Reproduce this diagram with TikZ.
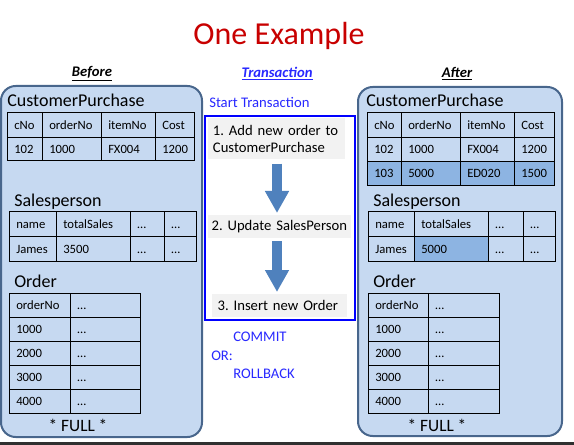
\documentclass[tikz,border=0pt]{standalone}
\usepackage{fontspec}
\setmainfont{Carlito}
\usetikzlibrary{arrows.meta}

\definecolor{panelfill}{RGB}{198,217,241}
\definecolor{panelline}{RGB}{72,102,140}
\definecolor{rowmark}{RGB}{141,180,226}
\definecolor{stepgray}{RGB}{242,242,242}
\definecolor{arrowblue}{RGB}{79,129,189}
\definecolor{txblue}{RGB}{40,40,255}
\definecolor{titlered}{RGB}{200,0,0}
\definecolor{barcolor}{RGB}{48,48,48}

\tikzset{
  panel/.style={draw=panelline, fill=panelfill, line width=1.5pt, rounded corners=11pt},
  tbl/.style={draw=black, line width=0.75pt},
  cell/.style={anchor=base west, inner sep=0.75pt, font=\fontsize{9.5}{11}\selectfont},
  heading/.style={anchor=west, inner sep=0.75pt, font=\fontsize{13.5}{16}\selectfont},
  coltitle/.style={inner sep=0.75pt, font=\fontsize{11}{13}\bfseries\itshape\selectfont},
  txtext/.style={anchor=west, inner sep=0.75pt, text=txblue, font=\fontsize{11}{13}\selectfont},
  stepbox/.style={anchor=north west, fill=stepgray, inner ysep=2pt, align=left, font=\fontsize{11}{13}\selectfont\frenchspacing},
  bigarrow/.style={draw=arrowblue, line width=7.5pt, -{Triangle[width=17pt,length=16.5pt]}},
}

\begin{document}
\begin{tikzpicture}[x=0.75pt,y=0.75pt,yscale=-1,xscale=1]
\useasboundingbox (0,0) rectangle (574,445);

%Title
\node [inner sep=0.75pt, text=titlered, font=\fontsize{24}{28}\selectfont] (title) at (279,36) {One Example};

%Bottom bar
\fill [barcolor] (0,442) rectangle (574,445);

%Shape: Rounded panel, before
\draw [panel] (1,86) rectangle (202,437);
%Shape: Rounded panel, after
\draw [panel] (358,87) rectangle (562,436);

% Column titles
\node [coltitle] (tbefore) at (92,74) {\underline{Before}};
\node [coltitle, text=txblue] (ttrans) at (277,74) {\underline{Transaction}};
\node [coltitle] (tafter) at (457,74) {\underline{After}};

%%%%%%%%%%%%%%%% Before %%%%%%%%%%%%%%%%
\node [heading] (bcpt) at (6,100) {CustomerPurchase};
%Table: CustomerPurchase
\draw [tbl] (7,113) rectangle (194,161);
\draw [tbl] (7,138) -- (194,138);
\draw [tbl] (42,113) -- (42,161) (101,113) -- (101,161) (155,113) -- (155,161);
\node [cell] (bcp11) at (13,129.5) {cNo};
\node [cell] (bcp12) at (48,129.5) {orderNo};
\node [cell] (bcp13) at (107,129.5) {itemNo};
\node [cell] (bcp14) at (161,129.5) {Cost};
\node [cell] (bcp21) at (13,153.5) {102};
\node [cell] (bcp22) at (48,153.5) {1000};
\node [cell] (bcp23) at (107,153.5) {FX004};
\node [cell] (bcp24) at (161,153.5) {1200};

\node [heading] (bspt) at (13,202) {Salesperson};
%Table: Salesperson
\draw [tbl] (9,212) rectangle (196,261);
\draw [tbl] (9,237) -- (196,237);
\draw [tbl] (56,212) -- (56,261) (130,212) -- (130,261) (164,212) -- (164,261);
\node [cell] (bsp11) at (15,228.5) {name};
\node [cell] (bsp12) at (62,228.5) {totalSales};
\node [cell] (bsp13) at (136,228.5) {…};
\node [cell] (bsp14) at (170,228.5) {…};
\node [cell] (bsp21) at (15,253) {James};
\node [cell] (bsp22) at (62,253) {3500};
\node [cell] (bsp23) at (136,253) {…};
\node [cell] (bsp24) at (170,253) {…};

\node [heading] (bort) at (13,281) {Order};
%Table: Order
\draw [tbl] (9,293) rectangle (140,413);
\draw [tbl] (9,317) -- (140,317) (9,341) -- (140,341) (9,365) -- (140,365) (9,389) -- (140,389);
\draw [tbl] (70,293) -- (70,413);
\node [cell] (bor11) at (15,309) {orderNo};
\node [cell] (bor12) at (76,309) {…};
\node [cell] (bor21) at (15,333) {1000};
\node [cell] (bor22) at (76,333) {…};
\node [cell] (bor31) at (15,357) {2000};
\node [cell] (bor32) at (76,357) {…};
\node [cell] (bor41) at (15,381) {3000};
\node [cell] (bor42) at (76,381) {…};
\node [cell] (bor51) at (15,405) {4000};
\node [cell] (bor52) at (76,405) {…};

\node [inner sep=0.75pt, font=\fontsize{13}{15}\selectfont] (bfull) at (78,425) {* FULL *};

%%%%%%%%%%%%%%%% Transaction %%%%%%%%%%%%%%%%
\node [txtext] (tstart) at (208,102) {Start Transaction};
%Shape: Rectangle
\draw [draw=blue, line width=1.5pt] (205,116) rectangle (355,320);

\node [stepbox, inner xsep=3.5pt, text width=95.75pt, minimum height=30.75pt] (step1) at (208,118) {1. Add new order to\\CustomerPurchase};
\node [stepbox, inner xsep=2.5pt, text width=102.25pt, minimum height=17.25pt] (step2) at (208,215) {2. Update SalesPerson};
\node [stepbox, inner xsep=4pt, text width=93.25pt, minimum height=17.25pt] (step3) at (212,294) {3. Insert new Order};

\draw [bigarrow, shorten <=3pt, shorten >=1.5pt] (step1.south -| 277,0) -- (step2.north -| 277,0);
\draw [bigarrow, shorten <=2pt, shorten >=1.5pt] (step2.south -| 277,0) -- (step3.north -| 277,0);

\node [txtext] (tcommit) at (232,337) {COMMIT};
\node [txtext] (tor) at (210,356) {OR:};
\node [txtext] (troll) at (232,374) {ROLLBACK};

%%%%%%%%%%%%%%%% After %%%%%%%%%%%%%%%%
\node [heading] (acpt) at (365,100) {CustomerPurchase};
%Table: CustomerPurchase
\fill [rowmark] (367,162) rectangle (554,186);
\draw [tbl] (367,113) rectangle (554,186);
\draw [tbl] (367,138) -- (554,138) (367,162) -- (554,162);
\draw [tbl] (401,113) -- (401,186) (460,113) -- (460,186) (514,113) -- (514,186);
\node [cell] (acp11) at (373,129.5) {cNo};
\node [cell] (acp12) at (407,129.5) {orderNo};
\node [cell] (acp13) at (466,129.5) {itemNo};
\node [cell] (acp14) at (520,129.5) {Cost};
\node [cell] (acp21) at (373,154) {102};
\node [cell] (acp22) at (407,154) {1000};
\node [cell] (acp23) at (466,154) {FX004};
\node [cell] (acp24) at (520,154) {1200};
\node [cell] (acp31) at (373,178) {103};
\node [cell] (acp32) at (407,178) {5000};
\node [cell] (acp33) at (466,178) {ED020};
\node [cell] (acp34) at (520,178) {1500};

\node [heading] (aspt) at (372,202) {Salesperson};
%Table: Salesperson
\fill [rowmark] (414,237) rectangle (488,261);
\draw [tbl] (368,212) rectangle (555,261);
\draw [tbl] (368,237) -- (555,237);
\draw [tbl] (414,212) -- (414,261) (488,212) -- (488,261) (523,212) -- (523,261);
\node [cell] (asp11) at (374,228.5) {name};
\node [cell] (asp12) at (420,228.5) {totalSales};
\node [cell] (asp13) at (494,228.5) {…};
\node [cell] (asp14) at (529,228.5) {…};
\node [cell] (asp21) at (374,253) {James};
\node [cell] (asp22) at (420,253) {5000};
\node [cell] (asp23) at (494,253) {…};
\node [cell] (asp24) at (529,253) {…};

\node [heading] (aort) at (372,281) {Order};
%Table: Order
\draw [tbl] (368,293) rectangle (499,413);
\draw [tbl] (368,317) -- (499,317) (368,341) -- (499,341) (368,365) -- (499,365) (368,389) -- (499,389);
\draw [tbl] (428,293) -- (428,413);
\node [cell] (aor11) at (374,309) {orderNo};
\node [cell] (aor12) at (434,309) {…};
\node [cell] (aor21) at (374,333) {1000};
\node [cell] (aor22) at (434,333) {…};
\node [cell] (aor31) at (374,357) {2000};
\node [cell] (aor32) at (434,357) {…};
\node [cell] (aor41) at (374,381) {3000};
\node [cell] (aor42) at (434,381) {…};
\node [cell] (aor51) at (374,405) {4000};
\node [cell] (aor52) at (434,405) {…};

\node [inner sep=0.75pt, font=\fontsize{13}{15}\selectfont] (afull) at (437,425) {* FULL *};

\end{tikzpicture}
\end{document}
